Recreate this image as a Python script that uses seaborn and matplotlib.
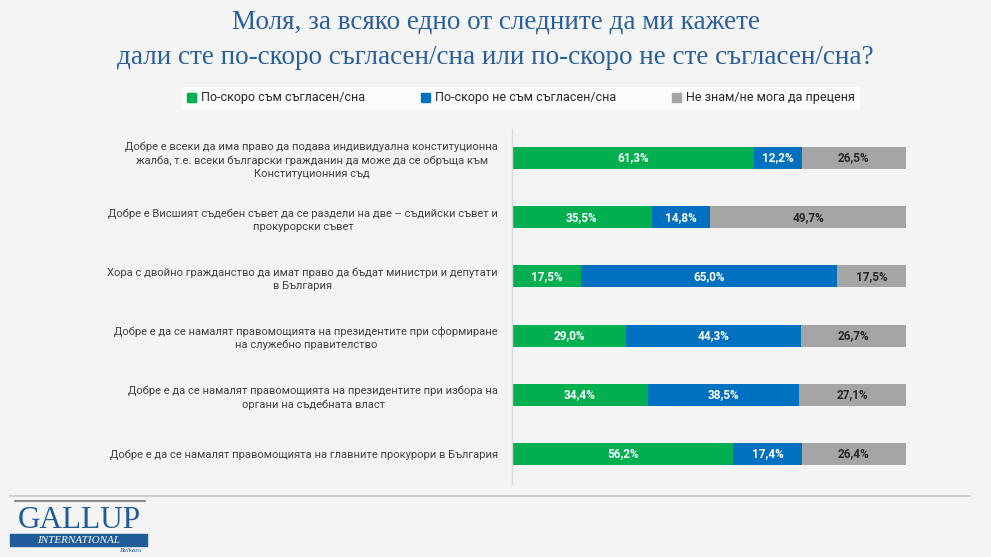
import numpy as np
import pandas as pd
import matplotlib.pyplot as plt
import matplotlib.patches as mpatches
import seaborn as sns

questions = [
    "Добре е всеки да има право да подава индивидуална конституционна\nжалба, т.е. всеки български гражданин да може да се обръща към\nКонституционния съд",
    "Добре е Висшият съдебен съвет да се раздели на две – съдийски съвет и\nпрокурорски съвет",
    "Хора с двойно гражданство да имат право да бъдат министри и депутати\nв България",
    "Добре е да се намалят правомощията на президентите при сформиране\nна служебно правителство",
    "Добре е да се намалят правомощията на президентите при избора на\nоргани на съдебната власт",
    "Добре е да се намалят правомощията на главните прокурори в България",
]
agree = [61.3, 35.5, 17.5, 29.0, 34.4, 56.2]
disagree = [12.2, 14.8, 65.0, 44.3, 38.5, 17.4]
dunno = [26.5, 49.7, 17.5, 26.7, 27.1, 26.4]
series_names = ["По-скоро съм съгласен/сна", "По-скоро не съм съгласен/сна", "Не знам/не мога да преценя"]

colors = ["#00B050", "#0070C0", "#A5A5A5"]
bg = "#F4F4F4"
serif = ["Liberation Serif", "DejaVu Serif"]

df = pd.DataFrame({"q": questions, "agree": agree, "disagree": disagree, "dunno": dunno})
df["c1"] = df["agree"]
df["c2"] = df["agree"] + df["disagree"]
df["c3"] = df["c2"] + df["dunno"]

sns.set_style("white")
plt.rcParams["font.family"] = ["Roboto", "DejaVu Sans"]

fig = plt.figure(figsize=(9.91, 5.57), dpi=100, facecolor=bg)
ax = fig.add_axes([512 / 991, (557 - 483.5) / 557, 394 / 991, 355 / 557])
ax.set_facecolor(bg)

# stacked bars: draw cumulative totals back to front
for col, c in zip(["c3", "c2", "c1"], colors[::-1]):
    sns.barplot(data=df, x=col, y="q", orient="h", color=c, width=0.37,
                saturation=1, ax=ax, edgecolor="none")

# value labels
for i, row in df.iterrows():
    starts = [0, row["c1"], row["c2"]]
    vals = [row["agree"], row["disagree"], row["dunno"]]
    for j, (s, v) in enumerate(zip(starts, vals)):
        ax.text(s + v / 2, i, f"{v:.1f}%".replace(".", ","), ha="center", va="center",
                fontsize=8.5, fontweight="bold",
                color="white" if j < 2 else "#262626")

ax.set_xlim(0, 100)
ax.set_ylim(5.5, -0.5)
ax.set_xlabel("")
ax.set_ylabel("")
ax.set_xticks([])
ax.tick_params(axis="y", length=0, pad=10, labelsize=8, labelcolor="#404040")
for lbl in ax.get_yticklabels():
    lbl.set_multialignment("center")
    lbl.set_linespacing(1.4)
for s in ["top", "right", "bottom"]:
    ax.spines[s].set_visible(False)
ax.spines["left"].set_color("#D9D9D9")
ax.spines["left"].set_linewidth(1)

# title
fig.text(0.5, 1 - 22 / 557, "Моля, за всяко едно от следните да ми кажете", ha="center", va="center",
         fontsize=19.5, color="#2A609C", family=serif)
fig.text(0.5, 1 - 57 / 557, "дали сте по-скоро съгласен/сна или по-скоро не сте съгласен/сна?",
         ha="center", va="center", fontsize=19.5, color="#2A609C", family=serif)

# legend
handles = [mpatches.Patch(color=c, label=n) for c, n in zip(colors, series_names)]
leg = fig.legend(handles=handles, loc="center", ncol=3, bbox_to_anchor=(521 / 991, 1 - 98 / 557),
                 frameon=True, fontsize=9, handlelength=0.7, handleheight=0.7,
                 handletextpad=0.4, columnspacing=4.5, borderpad=0.4, borderaxespad=0,
                 fancybox=False)
leg.get_frame().set_facecolor("white")
leg.get_frame().set_edgecolor("white")
leg.get_frame().set_linewidth(0)
for t in leg.get_texts():
    t.set_color("#262626")

# footer separator
fig.add_artist(plt.Line2D([10 / 991, 970 / 991], [1 - 496 / 557] * 2, color="#D0D0D0", lw=1.5))

# logo
fig.add_artist(plt.Line2D([15 / 991, 145 / 991], [1 - 501 / 557] * 2, color="#8C8C8C", lw=1.5))
fig.text(79 / 991, 1 - 528 / 557, "GALLUP", ha="center", va="baseline", fontsize=22.5,
         family=serif, color="#1F5C99")
fig.add_artist(mpatches.Rectangle((10 / 991, 1 - 546 / 557), 137 / 991, 12 / 557,
                                  transform=fig.transFigure, color="#1F5C99"))
fig.text(78.5 / 991, 1 - 540.5 / 557, "INTERNATIONAL", ha="center", va="center", fontsize=8,
         family=serif, style="italic", color="white")
fig.text(143 / 991, 1 - 551 / 557, "Balkans", ha="right", va="center", fontsize=5,
         family=serif, style="italic", color="#1F5C99")

fig.savefig("out.png", dpi=100, facecolor=bg)
